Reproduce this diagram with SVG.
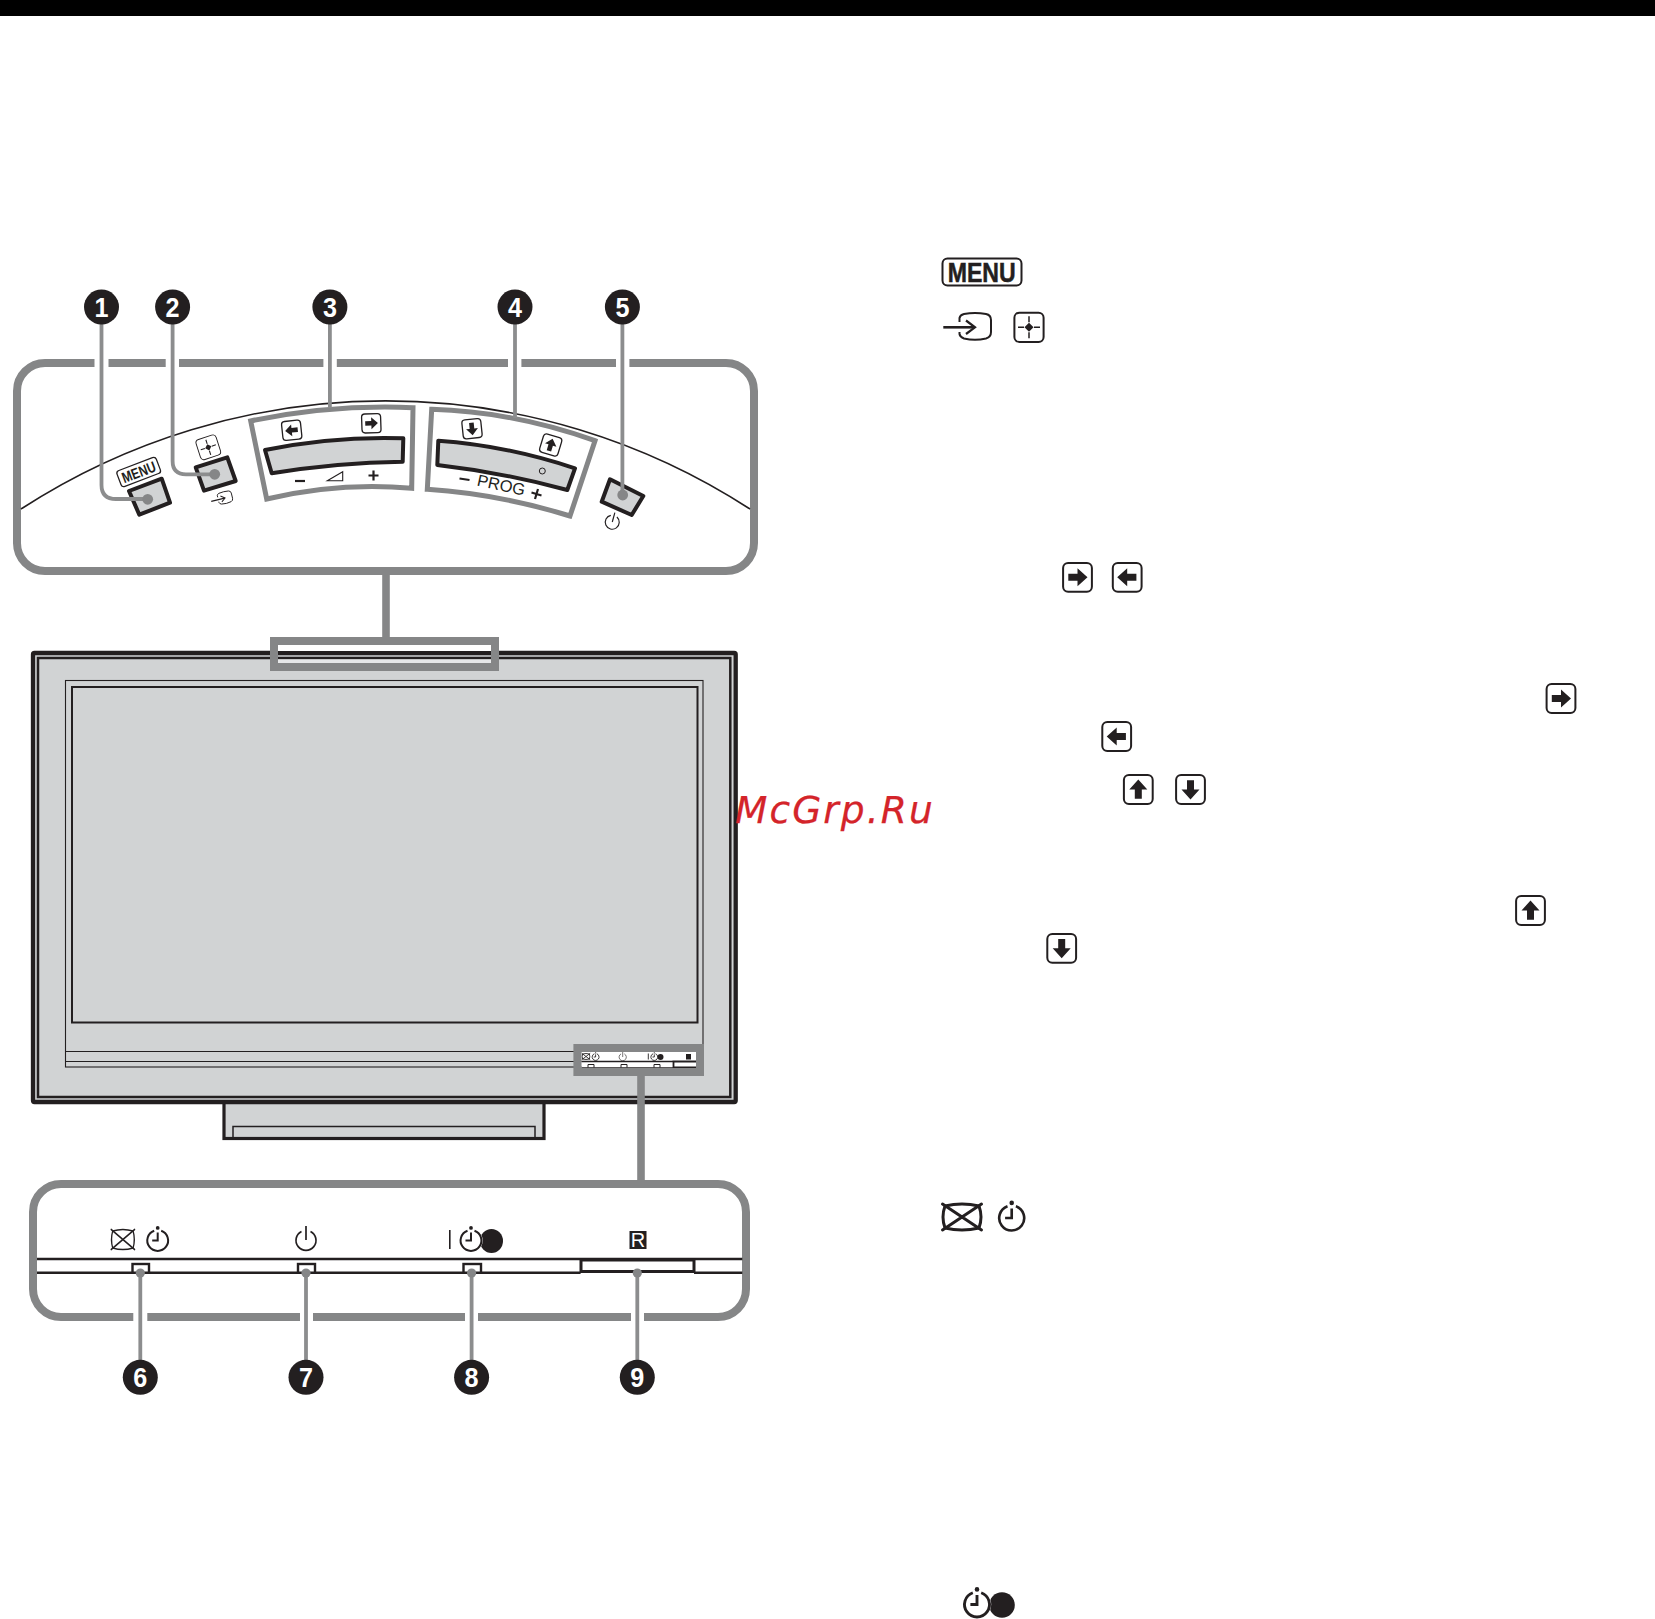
<svg xmlns="http://www.w3.org/2000/svg" xmlns:xlink="http://www.w3.org/1999/xlink" width="1655" height="1619" viewBox="0 0 1655 1619">
<style>
text{font-family:"Liberation Sans",Arial,sans-serif;fill:#231f20}
.num{font-size:27px;font-weight:700;fill:#fff;text-anchor:middle}
.cir{fill:#231f20}
.panel{fill:#fff;stroke:#858687;stroke-width:8}
.lead{fill:none;stroke:#8c8d8e;stroke-width:3.8}
.dot{fill:#858687}
.btn{fill:#d1d3d4;stroke:#231f20;stroke-width:4;stroke-linejoin:round}
.frame{fill:none;stroke:#858687;stroke-width:8}
.bk{fill:#231f20}
</style>
<defs>
<g id="arrowKey"><rect x="-14.4" y="-14.4" width="28.8" height="28.8" rx="5" fill="#fff" stroke="#231f20" stroke-width="2"/><path d="M-9.2-3.5H0V-9L10 0 0 9V3.5H-9.2Z" fill="#231f20"/></g>
<g id="timer" fill="none" stroke="#231f20"><path d="M-3.5-9.8A10.4 10.4 0 1 0 3.5-9.8"/><circle cx="0" cy="-12.6" r="1.9" fill="#231f20" stroke="none"/><path d="M0-8V0H-5.5"/></g>
<g id="power"><path d="M-4.5-8.6A10 10 0 1 0 4.5-8.6" fill="none" stroke="#231f20" stroke-width="1.7"/><path d="M0-14V0" fill="none" stroke="#231f20" stroke-width="1.7"/></g>
<g id="crossed" fill="none" stroke="#231f20"><path d="M-17-11Q0-15 17-11Q21 0 17 11Q0 15-17 11Q-21 0-17-11Z"/><path d="M-19.5-13 19.5 13M19.5-13-19.5 13" stroke-linecap="round"/></g>
<g id="input"><g transform="translate(-967 -326.5)" fill="none" stroke="#231f20"><path d="M959.5 322V318Q960 315 964 314Q975 312 986 314Q991 315 991 320V332Q991 337 986 338.5Q975 341 964 338.5Q960 337 959.5 334V332" stroke-width="2"/><path d="M943.3 327.3H974" stroke-width="2.6"/><path d="M966 320.5 975 327.3 966 334" stroke-width="2.2"/></g></g>
<g id="target"><rect x="-14.6" y="-14.6" width="29.2" height="29.2" rx="5" fill="#fff" stroke="#231f20" stroke-width="2"/><path d="M0-11V-5M0 5V11M-11 0H-5M5 0H11" stroke="#231f20" stroke-width="1.5"/><path d="M0-4.5 4.5 0 0 4.5-4.5 0Z" fill="#231f20"/></g>
</defs>
<rect width="1655" height="1619" fill="#fff"/>
<rect id="top-bar" width="1655" height="16" fill="#000"/>

<g id="tv">
<rect x="224" y="1100" width="320" height="38.5" fill="#d1d3d4" stroke="#231f20" stroke-width="3.2"/>
<rect x="233" y="1126.5" width="302" height="12" fill="none" stroke="#231f20" stroke-width="1.5"/>
<rect x="33" y="653" width="702.7" height="449" rx="1.5" fill="#d1d3d4" stroke="#231f20" stroke-width="4.3"/>
<rect x="38" y="658" width="692.3" height="439" fill="none" stroke="#231f20" stroke-width="2.5"/>
<rect x="65.5" y="680.5" width="637.5" height="386.5" fill="none" stroke="#231f20" stroke-width="1.1"/>
<rect x="72" y="687" width="625.5" height="335.5" fill="none" stroke="#231f20" stroke-width="2"/>
<path d="M65.5 1051.5H703M65.5 1061.5H703" fill="none" stroke="#231f20" stroke-width="1.1"/>
</g>

<g id="tv-top-callout">
<rect x="278" y="645" width="213" height="6" fill="#fff"/>
<rect x="278" y="659.5" width="213" height="3.5" fill="#e6e7e8"/>
<rect x="274" y="641" width="221" height="26" class="frame"/>
</g>

<g id="tv-indicator-callout">
<rect x="581.5" y="1052" width="118" height="17" fill="#fff"/>
<path d="M581.5 1061.5H673M581.5 1068H699.5" fill="none" stroke="#231f20" stroke-width="1.6"/>
<path d="M673.5 1068V1061.5H699.5M673.5 1067.3H699.5" fill="none" stroke="#231f20" stroke-width="1.8"/>
<path d="M588 1067.5V1064.5H594V1067.5M621 1067.5V1064.5H627V1067.5M654 1067.5V1064.5H660V1067.5" fill="none" stroke="#231f20" stroke-width="1"/>
<use xlink:href="#crossed" href="#crossed" stroke-width="4" transform="translate(586 1056.5) scale(.2 .23)"/>
<use xlink:href="#timer" href="#timer" stroke-width="2.6" transform="translate(595.6 1057) scale(.33)"/>
<use xlink:href="#power" href="#power" transform="translate(622.7 1057) scale(.36)"/>
<path d="M648.3 1053.5V1059.5" stroke="#231f20" stroke-width=".9"/>
<use xlink:href="#timer" href="#timer" stroke-width="2.6" transform="translate(654.3 1057) scale(.33)"/>
<circle cx="660.5" cy="1057" r="3" class="bk"/>
<rect x="686" y="1054" width="5" height="5.5" class="bk"/>
<rect x="577.4" y="1048" width="122.6" height="24" class="frame"/>
</g>

<g id="panel-top">
<rect x="17" y="363" width="737" height="208" rx="28" class="panel"/>
<path d="M94.5 358H108.5V368H94.5ZM165.7 358H179V368H165.7ZM323.4 358H336.8V368H323.4ZM508 358H521.4V368H508ZM616 358H629.4V368H616Z" fill="#fff"/>
<path d="M21 509A668.7 668.7 0 0 1 750 509" fill="none" stroke="#231f20" stroke-width="1.6"/>
</g>

<g id="panel-bottom">
<rect x="33" y="1184" width="713" height="133" rx="28" class="panel"/>
<path d="M133.3 1312H147.3V1322H133.3ZM300 1312H313V1322H300ZM465 1312H478V1322H465ZM631 1312H644V1322H631Z" fill="#fff"/>
<path d="M37 1259H742.3M37 1272.7H580.6M694 1272.7H742.3" fill="none" stroke="#231f20" stroke-width="2.4"/>
</g>

<g id="btn-menu">
<path class="btn" d="M129 491 161.7 478.7 170 502.7 139.3 514.7Z"/>
<g transform="translate(138.7 472) rotate(-21)"><rect x="-21" y="-8.5" width="42" height="17" rx="3" fill="#fff" stroke="#231f20" stroke-width="1.3"/><text x="0" y="5.4" font-size="15" font-weight="700" text-anchor="middle" textLength="35" lengthAdjust="spacingAndGlyphs">MENU</text></g>
</g>
<g id="btn-input">
<path class="btn" d="M195.7 467.3 227.3 457.3 235.7 481 204 490.7Z"/>
<g transform="translate(208.3 447.3) rotate(-18) scale(.72)"><rect x="-14.6" y="-14.6" width="29.2" height="29.2" rx="5" fill="#fff" stroke="#231f20" stroke-width="1.3"/><path d="M0-11V-5M0 5V11M-11 0H-5M5 0H11" stroke="#231f20" stroke-width="1.5"/><path d="M0-4.5 4.5 0 0 4.5-4.5 0Z" fill="#231f20"/></g>
<use xlink:href="#input" href="#input" transform="translate(221.5 498.5) rotate(-14) scale(.45)"/>
</g>
<g id="btn-volume">
<path d="M250.7 421Q331.4 404.2 413 407.7L411.7 488.3Q339.5 481.8 266.7 499Z" fill="none" stroke="#858687" stroke-width="5"/>
<path class="btn" d="M265 450Q334 436 403.3 438.3L402.7 461.7Q337 462.5 271.7 473.3Z"/>
<use xlink:href="#arrowKey" href="#arrowKey" transform="translate(291.7 430.3) rotate(174) scale(.66)"/>
<use xlink:href="#arrowKey" href="#arrowKey" transform="translate(371.3 423.3) rotate(-2) scale(.66)"/>
<path d="M295 481H305" stroke="#231f20" stroke-width="2.2"/>
<path d="M327.3 480.7 342.7 471.7V480.7Z" fill="none" stroke="#231f20" stroke-width="1.1"/>
<path d="M368.5 475.5H378.5M373.5 470.5V480.5" stroke="#231f20" stroke-width="2.2"/>
</g>
<g id="btn-prog">
<path d="M431.7 409.3Q513.3 411.6 595 440.7L570 516Q499 494 427.3 489.3Z" fill="none" stroke="#858687" stroke-width="5"/>
<path class="btn" d="M438.3 440.7Q506.6 445.5 575 468.3L567.3 490Q503 472.5 437.3 465Z"/>
<circle cx="542.3" cy="471" r="3" fill="none" stroke="#231f20" stroke-width="1"/>
<use xlink:href="#arrowKey" href="#arrowKey" transform="translate(472 428.7) rotate(84) scale(.66)"/>
<use xlink:href="#arrowKey" href="#arrowKey" transform="translate(550.7 445) rotate(-73) scale(.66)"/>
<path d="M459.5 478.5 469.5 480" stroke="#231f20" stroke-width="2.2"/>
<text transform="translate(500 490.5) rotate(12)" font-size="16.5" text-anchor="middle">PROG</text>
<path d="M531.5 492.5 541.5 495.5M538 489 535 499" stroke="#231f20" stroke-width="2.2"/>
</g>
<g id="btn-power">
<path class="btn" d="M610 479.3 643.3 496 631.7 515 601.7 501.7Z"/>
<use xlink:href="#power" href="#power" transform="translate(612.3 522) rotate(15) scale(.7)"/>
</g>

<g id="ind-standby">
<rect x="132.5" y="1264" width="16.5" height="8.7" fill="#fff" stroke="#231f20" stroke-width="2.4"/>
<use xlink:href="#crossed" href="#crossed" stroke-width="2.2" transform="translate(122.9 1239.5) scale(.6 .77)"/>
<use xlink:href="#timer" href="#timer" stroke-width="2" transform="translate(157.7 1240.5)"/>
</g>
<g id="ind-power">
<rect x="298" y="1264" width="17" height="8.7" fill="#fff" stroke="#231f20" stroke-width="2.4"/>
<use xlink:href="#power" href="#power" transform="translate(306 1240)"/>
</g>
<g id="ind-timer">
<rect x="463.5" y="1264" width="17.5" height="8.7" fill="#fff" stroke="#231f20" stroke-width="2.4"/>
<path d="M449.8 1230V1249" stroke="#231f20" stroke-width="1.6"/>
<ellipse cx="491.5" cy="1241" rx="11.5" ry="12" class="bk"/>
<circle cx="471" cy="1240.5" r="11.7" fill="#fff"/>
<use xlink:href="#timer" href="#timer" stroke-width="2" transform="translate(471 1240.5)"/>
</g>
<g id="ind-remote">
<rect x="581" y="1260" width="113" height="11.5" fill="#fff" stroke="#231f20" stroke-width="3"/>
<rect x="629.5" y="1231" width="17" height="18" class="bk"/>
<text x="638" y="1247" font-size="20" text-anchor="middle" style="fill:#fff">R</text>
</g>

<g id="connectors">
<path d="M386 575V637" fill="none" stroke="#858687" stroke-width="7.6"/>
<path d="M641 1076V1181" fill="none" stroke="#858687" stroke-width="7.6"/>
<path class="lead" d="M101.5 320V485Q101.5 499 116 499H147"/>
<path class="lead" d="M172.6 320V461Q172.6 474.3 186 474.3H214"/>
<path class="lead" d="M329.9 320V408"/>
<path class="lead" d="M515 320V418"/>
<path class="lead" d="M622.4 320V495"/>
<path class="lead" d="M140.3 1273V1365"/>
<path class="lead" d="M306 1273V1365"/>
<path class="lead" d="M471.6 1273V1365"/>
<path class="lead" d="M637.3 1273V1365"/>
<g class="dot">
<circle cx="147.7" cy="499.3" r="5.4"/>
<circle cx="214.7" cy="474.3" r="5.4"/>
<circle cx="622.7" cy="495" r="5.4"/>
<circle cx="140.3" cy="1273" r="4.6"/>
<circle cx="306" cy="1273" r="4.6"/>
<circle cx="471.6" cy="1273" r="4.6"/>
<circle cx="637.3" cy="1273" r="4.6"/>
</g>
</g>

<g id="callout-1"><circle class="cir" cx="101.5" cy="307" r="17.5"/><text class="num" x="101.5" y="316.7" textLength="14" lengthAdjust="spacingAndGlyphs">1</text></g>
<g id="callout-2"><circle class="cir" cx="172.6" cy="307" r="17.5"/><text class="num" x="172.6" y="316.7" textLength="14" lengthAdjust="spacingAndGlyphs">2</text></g>
<g id="callout-3"><circle class="cir" cx="329.9" cy="307" r="17.5"/><text class="num" x="329.9" y="316.7" textLength="14" lengthAdjust="spacingAndGlyphs">3</text></g>
<g id="callout-4"><circle class="cir" cx="515" cy="307" r="17.5"/><text class="num" x="515" y="316.7" textLength="14" lengthAdjust="spacingAndGlyphs">4</text></g>
<g id="callout-5"><circle class="cir" cx="622.4" cy="307" r="17.5"/><text class="num" x="622.4" y="316.7" textLength="14" lengthAdjust="spacingAndGlyphs">5</text></g>
<g id="callout-6"><circle class="cir" cx="140.3" cy="1377.3" r="17.5"/><text class="num" x="140.3" y="1387" textLength="14" lengthAdjust="spacingAndGlyphs">6</text></g>
<g id="callout-7"><circle class="cir" cx="306" cy="1377.3" r="17.5"/><text class="num" x="306" y="1387" textLength="14" lengthAdjust="spacingAndGlyphs">7</text></g>
<g id="callout-8"><circle class="cir" cx="471.6" cy="1377.3" r="17.5"/><text class="num" x="471.6" y="1387" textLength="14" lengthAdjust="spacingAndGlyphs">8</text></g>
<g id="callout-9"><circle class="cir" cx="637.3" cy="1377.3" r="17.5"/><text class="num" x="637.3" y="1387" textLength="14" lengthAdjust="spacingAndGlyphs">9</text></g>

<g id="legend-menu"><rect x="942.5" y="258.5" width="79" height="27" rx="5" fill="#fff" stroke="#231f20" stroke-width="2"/><text x="981.7" y="282" font-size="27" font-weight="700" text-anchor="middle" textLength="68" lengthAdjust="spacingAndGlyphs" stroke="#231f20" stroke-width=".5">MENU</text></g>
<use id="legend-input" xlink:href="#input" href="#input" transform="translate(967 326.5)"/>
<use id="legend-target" xlink:href="#target" href="#target" transform="translate(1029 327.3)"/>
<use id="key-right-1" xlink:href="#arrowKey" href="#arrowKey" transform="translate(1077.5 577.3)"/>
<use id="key-left-1" xlink:href="#arrowKey" href="#arrowKey" transform="translate(1127.2 577.3) rotate(180)"/>
<use id="key-right-2" xlink:href="#arrowKey" href="#arrowKey" transform="translate(1561 698.5)"/>
<use id="key-left-2" xlink:href="#arrowKey" href="#arrowKey" transform="translate(1116.7 736.5) rotate(180)"/>
<use id="key-up-1" xlink:href="#arrowKey" href="#arrowKey" transform="translate(1138.3 789.5) rotate(-90)"/>
<use id="key-down-1" xlink:href="#arrowKey" href="#arrowKey" transform="translate(1190.5 789.5) rotate(90)"/>
<use id="key-up-2" xlink:href="#arrowKey" href="#arrowKey" transform="translate(1530.5 910.5) rotate(-90)"/>
<use id="key-down-2" xlink:href="#arrowKey" href="#arrowKey" transform="translate(1061.7 948.3) rotate(90)"/>
<use id="legend-crossed" xlink:href="#crossed" href="#crossed" stroke-width="3" transform="translate(962 1217)"/>
<use id="legend-timer" xlink:href="#timer" href="#timer" stroke-width="2.2" transform="translate(1011.7 1218) scale(1.2)"/>
<g id="legend-timer-on">
<circle cx="1002" cy="1605" r="12.8" class="bk"/>
<circle cx="977" cy="1604.5" r="14.2" fill="#fff"/>
<use xlink:href="#timer" href="#timer" stroke-width="2.4" transform="translate(977 1604.5) scale(1.2)"/>
</g>
<text id="watermark" x="735" y="823.3" font-size="37.5" font-style="italic" letter-spacing="2.1" stroke="#d4242a" stroke-width=".25" style="font-family:'DejaVu Sans',sans-serif;fill:#d4242a">McGrp.Ru</text>
</svg>
